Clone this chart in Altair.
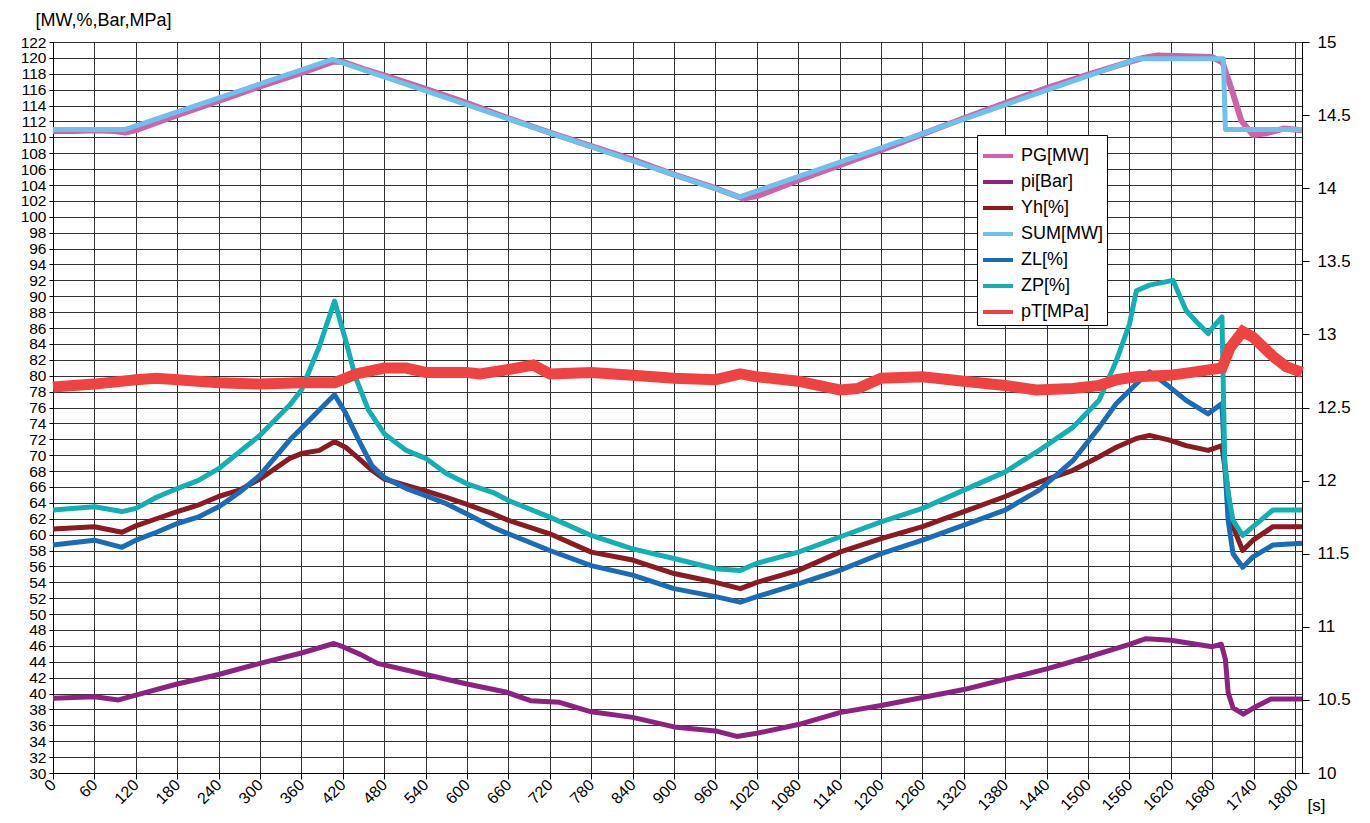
import altair as alt
import pandas as pd

SERIES = ["PG[MW]", "pi[Bar]", "Yh[%]", "SUM[MW]", "ZL[%]", "ZP[%]", "pT[MPa]"]
COLORS = ["#D062AA", "#8C2381", "#8B1A22", "#6EC1EA", "#1B6CB8", "#12B0B3", "#EF4343"]

sum_t = [0, 105, 405, 995, 1572, 1696, 1699, 1810]
sum_v = [111.0, 111.0, 119.8, 102.5, 119.9, 119.9, 111.0, 111.0]

pg_t = [0, 30, 60, 90, 105, 120, 180, 240, 300, 360, 405, 420, 450, 480, 540, 600, 660, 720, 780,
        840, 900, 960, 1000, 1020, 1080, 1140, 1200, 1260, 1320, 1380, 1440, 1500, 1560, 1580,
        1600, 1640, 1680, 1695, 1710, 1722, 1739, 1758, 1783, 1810]
pg_v = [110.8, 110.8, 110.9, 110.8, 110.6, 110.9, 112.8, 114.6, 116.4, 118.1, 119.5, 119.5, 118.6,
        117.8, 116.1, 114.3, 112.4, 110.6, 108.9, 107.2, 105.3, 103.6, 102.3, 102.6, 104.6, 106.5,
        108.4, 110.4, 112.4, 114.3, 116.2, 117.9, 119.5, 120.0, 120.3, 120.2, 120.1, 119.4, 115.5,
        112.1, 110.3, 110.5, 111.1, 110.9]

pi_t = [0, 60, 95, 120, 180, 240, 300, 360, 407, 420, 446, 470, 540, 600, 656, 692, 734, 780, 840,
        900, 960, 991, 1020, 1080, 1140, 1200, 1260, 1320, 1380, 1440, 1500, 1560, 1584, 1620, 1650,
        1680, 1693, 1699, 1703, 1710, 1725, 1740, 1765, 1800, 1810]
pi_v = [39.4, 39.6, 39.2, 39.8, 41.2, 42.4, 43.8, 45.1, 46.3, 45.9, 44.9, 43.8, 42.4, 41.2, 40.2,
        39.1, 38.9, 37.7, 37.0, 35.8, 35.3, 34.6, 35.0, 36.1, 37.6, 38.5, 39.5, 40.5, 41.8, 43.1,
        44.6, 46.2, 46.9, 46.7, 46.3, 45.9, 46.2, 44.3, 40.1, 38.2, 37.4, 38.2, 39.3, 39.3, 39.3]

yh_t = [0, 60, 100, 120, 150, 180, 210, 240, 270, 300, 343, 360, 386, 408, 424, 443, 462, 480, 512,
        540, 570, 600, 638, 660, 720, 780, 840, 900, 960, 996, 1020, 1080, 1140, 1200, 1260, 1320,
        1380, 1429, 1478, 1516, 1541, 1570, 1589, 1618, 1642, 1674, 1694, 1703, 1710, 1724, 1739,
        1768, 1810]
yh_v = [60.7, 61.0, 60.3, 61.1, 62.0, 62.9, 63.7, 64.8, 65.6, 67.0, 69.6, 70.2, 70.6, 71.7, 71.0,
        69.6, 68.1, 67.0, 66.2, 65.5, 64.7, 63.8, 62.6, 61.8, 60.1, 57.8, 56.8, 55.1, 54.0, 53.2,
        54.0, 55.5, 57.8, 59.5, 61.0, 62.9, 64.8, 66.6, 68.1, 69.8, 71.0, 72.1, 72.5, 71.9, 71.2,
        70.6, 71.2, 65.2, 61.0, 58.0, 59.3, 61.0, 61.0]

zl_t = [0, 60, 100, 120, 150, 180, 210, 240, 270, 300, 343, 360, 386, 408, 424, 443, 462, 480, 512,
        540, 570, 600, 638, 660, 720, 780, 840, 900, 960, 996, 1020, 1080, 1140, 1200, 1260, 1320,
        1380, 1429, 1478, 1516, 1541, 1570, 1589, 1618, 1642, 1674, 1694, 1698, 1703, 1710, 1724,
        1739, 1768, 1810]
zl_v = [58.7, 59.3, 58.4, 59.3, 60.3, 61.4, 62.2, 63.5, 65.3, 67.5, 71.9, 73.4, 75.7, 77.6, 75.3,
        71.9, 68.7, 67.2, 65.8, 64.9, 63.9, 62.6, 60.9, 60.1, 58.0, 56.1, 54.9, 53.2, 52.2, 51.5,
        52.2, 53.8, 55.5, 57.6, 59.3, 61.2, 63.1, 65.6, 69.3, 73.5, 76.5, 79.0, 80.5, 78.6, 76.9,
        75.2, 76.5, 69.0, 61.8, 57.6, 55.9, 57.2, 58.7, 58.9]

zp_t = [0, 60, 100, 120, 150, 180, 210, 240, 270, 300, 343, 360, 386, 408, 424, 438, 457, 480, 512,
        540, 570, 600, 638, 660, 720, 780, 840, 900, 960, 996, 1020, 1080, 1140, 1200, 1260, 1320,
        1380, 1429, 1478, 1516, 1541, 1560, 1570, 1589, 1623, 1642, 1657, 1674, 1681, 1694, 1698,
        1703, 1710, 1724, 1739, 1768, 1810]
zp_v = [63.1, 63.5, 62.9, 63.3, 64.7, 65.8, 66.8, 68.3, 70.4, 72.5, 76.3, 78.2, 83.7, 89.4, 84.5,
        79.9, 75.7, 72.7, 70.6, 69.6, 67.7, 66.4, 65.3, 64.3, 62.2, 59.9, 58.2, 57.0, 55.7, 55.5,
        56.4, 57.8, 59.7, 61.6, 63.3, 65.6, 67.9, 70.6, 73.5, 76.9, 81.9, 86.5, 90.7, 91.4, 92.0,
        88.2, 86.8, 85.3, 86.1, 87.4, 69.3, 65.2, 61.8, 59.9, 61.0, 63.1, 63.1]

pt_t = [0, 60, 120, 150, 180, 240, 300, 360, 408, 440, 480, 512, 540, 570, 600, 619, 660, 696, 720,
        780, 840, 900, 960, 996, 1020, 1080, 1140, 1166, 1200, 1260, 1320, 1380, 1425, 1478, 1516,
        1541, 1570, 1618, 1650, 1694, 1706, 1724, 1739, 1768, 1787, 1810]
pt_v = [12.64, 12.66, 12.69, 12.70, 12.69, 12.67, 12.66, 12.67, 12.67, 12.73, 12.77, 12.77, 12.74,
        12.74, 12.74, 12.73, 12.76, 12.79, 12.73, 12.74, 12.72, 12.70, 12.69, 12.73, 12.71, 12.68,
        12.62, 12.63, 12.70, 12.71, 12.68, 12.65, 12.62, 12.63, 12.65, 12.69, 12.71, 12.72, 12.74,
        12.77, 12.91, 13.02, 12.98, 12.85, 12.78, 12.74]

x_ticks = list(range(0, 1801, 60))
yl_ticks = list(range(30, 123, 2))
yr_ticks = [10, 10.5, 11, 11.5, 12, 12.5, 13, 13.5, 14, 14.5, 15]

FONT = "Liberation Sans"
GRID = "#333333"


def frame(name, t, v):
    return pd.DataFrame({"t": t, "v": v, "series": name})


color = alt.Color(
    "series:N",
    scale=alt.Scale(domain=SERIES, range=COLORS),
    legend=alt.Legend(
        title=None, orient="none", legendX=924, legendY=93,
        symbolType="stroke", symbolSize=900, symbolStrokeWidth=4,
        labelFontSize=18, labelFont=FONT, labelColor="black", labelOffset=6,
        rowPadding=-2, padding=4, strokeColor="black", fillColor="white",
        cornerRadius=0,
    ),
)

x_enc = alt.X(
    "t:Q",
    scale=alt.Scale(domain=[0, 1810], nice=False, zero=False),
    axis=alt.Axis(
        values=x_ticks, format="d", labelAngle=-45, labelAlign="right", labelBaseline="middle",
        labelFontSize=16, labelFont=FONT, labelColor="black", labelPadding=3,
        tickSize=6, tickColor="black", domainColor="black",
        grid=True, gridColor=GRID, gridWidth=1,
        title="[s]", titleAngle=0, titleAlign="left", titleBaseline="alphabetic",
        titleX=1254, titleY=37, titleFontSize=17, titleFontWeight="normal",
        titleFont=FONT, titleColor="black", labelOverlap=False,
    ),
)

yl_enc = alt.Y(
    "v:Q",
    scale=alt.Scale(domain=[30, 122], nice=False, zero=False),
    axis=alt.Axis(
        values=yl_ticks, labelFontSize=15.5, labelFont=FONT, labelColor="black",
        tickSize=4, tickColor="black", labelPadding=3, domainColor="black",
        grid=True, gridColor=GRID, gridWidth=1, labelOverlap=False,
        title="[MW,%,Bar,MPa]", titleAngle=0, titleAlign="left", titleBaseline="alphabetic",
        titleX=-18, titleY=-17, titleFontSize=18, titleFontWeight="normal",
        titleFont=FONT, titleColor="black",
    ),
)

yr_enc = alt.Y(
    "v:Q",
    scale=alt.Scale(domain=[10, 15], nice=False, zero=False),
    axis=alt.Axis(
        orient="right", values=yr_ticks, format="~g", labelFontSize=17, labelFont=FONT,
        labelColor="black", tickSize=7, tickColor="black", labelPadding=8,
        domainColor="black", grid=False, title=None, labelOverlap=False,
    ),
)

left_specs = [
    ("PG[MW]", pg_t, pg_v, 6),
    ("pi[Bar]", pi_t, pi_v, 5),
    ("Yh[%]", yh_t, yh_v, 5),
    ("SUM[MW]", sum_t, sum_v, 5),
    ("ZL[%]", zl_t, zl_v, 5),
    ("ZP[%]", zp_t, zp_v, 5),
]

left_layers = [
    alt.Chart(frame(n, t, v)).mark_line(strokeWidth=w, strokeJoin="round")
    .encode(x=x_enc, y=yl_enc, color=color)
    for n, t, v, w in left_specs
]
left = alt.layer(*left_layers)

right = alt.Chart(frame("pT[MPa]", pt_t, pt_v)).mark_line(strokeWidth=11).encode(
    x=x_enc, y=yr_enc, color=color
)

chart = (
    alt.layer(left, right)
    .resolve_scale(y="independent")
    .properties(
        width=1249, height=731,
        autosize=alt.AutoSizeParams(type="none"),
        padding={"left": 45, "top": 34, "right": 60, "bottom": 42},
    )
    .configure(font=FONT, background="white")
    .configure_view(stroke="black", strokeWidth=1)
)

chart.save("out.html", embed_options={"renderer": "svg", "actions": False})
